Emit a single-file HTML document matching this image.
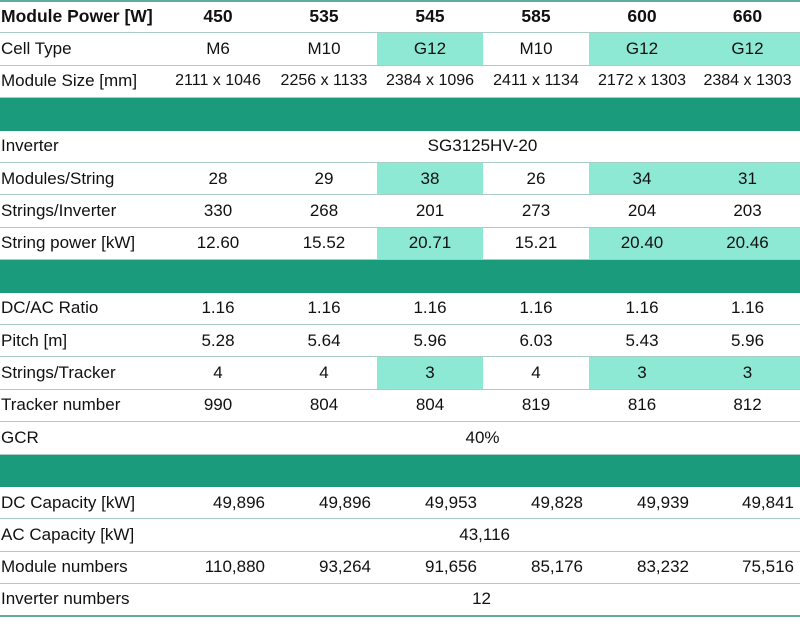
<!DOCTYPE html>
<html><head><meta charset="utf-8"><style>
*{margin:0;padding:0;box-sizing:border-box}
body{width:800px;height:625px;background:#fff;position:relative;overflow:hidden;font-family:"Liberation Sans",Arial,sans-serif;font-size:17px;color:#111}
.r{position:absolute;left:0;width:800px;height:32.4px;display:flex;border-bottom:1px solid #a9cdc4}
.r div{height:100%;display:flex;align-items:center;justify-content:center;white-space:nowrap}
.r .l{width:165px;justify-content:flex-start;padding-left:1px}
.r .c{width:106px}
.r .c:last-child{width:105px}
.h{background:#8de8d4}
.b{font-weight:bold;font-size:17.5px}
.band{position:absolute;left:0;width:800px;height:32.4px;background:#1a9b7c}
.rt div.c{justify-content:flex-end;padding-right:6px}
</style></head><body>
<div style="position:absolute;left:0;top:0;width:800px;height:2px;background:#5fae9c"></div>
<div class="r b" style="top:1px"><div class="l">Module Power [W]</div><div class="c">450</div><div class="c">535</div><div class="c">545</div><div class="c">585</div><div class="c">600</div><div class="c">660</div></div>
<div class="r" style="top:33.4px"><div class="l">Cell Type</div><div class="c">M6</div><div class="c">M10</div><div class="c h">G12</div><div class="c">M10</div><div class="c h">G12</div><div class="c h">G12</div></div>
<div class="r" style="top:65.8px;font-size:16px"><div class="l" style="font-size:17px">Module Size [mm]</div><div class="c">2111 x 1046</div><div class="c">2256 x 1133</div><div class="c">2384 x 1096</div><div class="c">2411 x 1134</div><div class="c">2172 x 1303</div><div class="c">2384 x 1303</div></div>
<div class="band" style="top:98.2px"></div>
<div class="r" style="top:130.6px"><div class="l">Inverter</div><div style="width:635px">SG3125HV-20</div></div>
<div class="r" style="top:163px"><div class="l">Modules/String</div><div class="c">28</div><div class="c">29</div><div class="c h">38</div><div class="c">26</div><div class="c h">34</div><div class="c h">31</div></div>
<div class="r" style="top:195.4px"><div class="l">Strings/Inverter</div><div class="c">330</div><div class="c">268</div><div class="c">201</div><div class="c">273</div><div class="c">204</div><div class="c">203</div></div>
<div class="r" style="top:227.8px"><div class="l">String power [kW]</div><div class="c">12.60</div><div class="c">15.52</div><div class="c h">20.71</div><div class="c">15.21</div><div class="c h">20.40</div><div class="c h">20.46</div></div>
<div class="band" style="top:260.2px"></div>
<div class="r" style="top:292.6px"><div class="l">DC/AC Ratio</div><div class="c">1.16</div><div class="c">1.16</div><div class="c">1.16</div><div class="c">1.16</div><div class="c">1.16</div><div class="c">1.16</div></div>
<div class="r" style="top:325px"><div class="l">Pitch [m]</div><div class="c">5.28</div><div class="c">5.64</div><div class="c">5.96</div><div class="c">6.03</div><div class="c">5.43</div><div class="c">5.96</div></div>
<div class="r" style="top:357.4px"><div class="l">Strings/Tracker</div><div class="c">4</div><div class="c">4</div><div class="c h">3</div><div class="c">4</div><div class="c h">3</div><div class="c h">3</div></div>
<div class="r" style="top:389.8px"><div class="l">Tracker number</div><div class="c">990</div><div class="c">804</div><div class="c">804</div><div class="c">819</div><div class="c">816</div><div class="c">812</div></div>
<div class="r" style="top:422.2px"><div class="l">GCR</div><div style="width:635px">40%</div></div>
<div class="band" style="top:454.6px"></div>
<div class="r rt" style="top:487px"><div class="l">DC Capacity [kW]</div><div class="c">49,896</div><div class="c">49,896</div><div class="c">49,953</div><div class="c">49,828</div><div class="c">49,939</div><div class="c">49,841</div></div>
<div class="r" style="top:519.4px"><div class="l">AC Capacity [kW]</div><div style="width:345px;justify-content:flex-end">43,116</div></div>
<div class="r rt" style="top:551.8px"><div class="l">Module numbers</div><div class="c">110,880</div><div class="c">93,264</div><div class="c">91,656</div><div class="c">85,176</div><div class="c">83,232</div><div class="c">75,516</div></div>
<div class="r" style="top:584.2px;border-bottom:2px solid #5fae9c"><div class="l">Inverter numbers</div><div style="width:326px;justify-content:flex-end">12</div></div>
</body></html>
